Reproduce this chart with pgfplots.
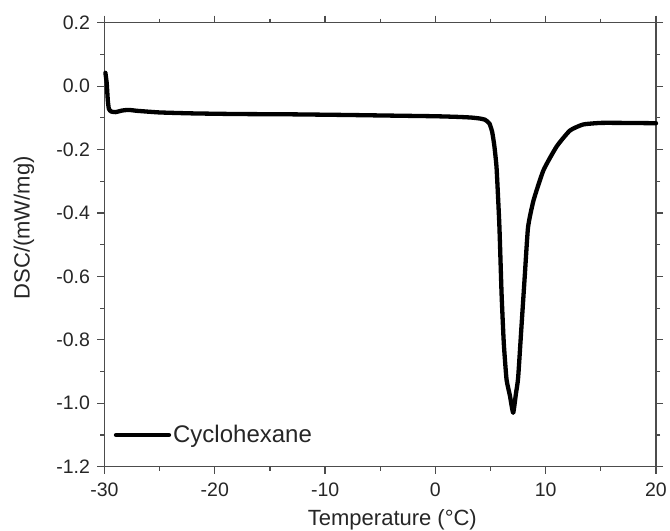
\documentclass[border=0pt]{standalone}
\usepackage{pgfplots}
\pgfplotsset{compat=1.18}
\usepackage{fontspec}
\setmainfont{Liberation Sans}

\begin{document}
\begin{tikzpicture}
\begin{axis}[
    scale only axis,
    width=551.5pt, height=444pt,
    xmin=-30, xmax=20, ymin=-1.2, ymax=0.2,
    xtick={-30,-20,...,20},
    ytick={-1.2,-1.0,...,0.21},
    minor x tick num=1, minor y tick num=1,
    xtick pos=both, ytick pos=both,
    xticklabel pos=lower, yticklabel pos=left,
    tick align=outside,
    major tick length=7pt, minor tick length=4pt,
    axis line style={black!70, line width=1.2pt},
    every tick/.style={black!70, line width=1.2pt},
    /pgf/number format/assume math mode=true,
    ticklabel style={font=\fontsize{19.5}{22}\selectfont, black!85},
    xticklabel style={yshift=-6pt},
    yticklabel style={xshift=-4pt, /pgf/number format/fixed,
        /pgf/number format/fixed zerofill, /pgf/number format/precision=1},
    xlabel={Temperature (°C)},
    ylabel={DSC/(mW/mg)},
    label style={font=\fontsize{22}{26}\selectfont, black!85},
    xlabel style={at={(rel axis cs:0.522,0)}, anchor=center, yshift=-53.5pt},
    ylabel style={at={(rel axis cs:-0.146,0.538)}, anchor=center},
    legend style={draw=none, fill=none, inner sep=0pt, outer sep=0pt,
        at={(rel axis cs:0.017,0.0714)}, anchor=west,
        font=\fontsize{24}{27}\selectfont, text=black!85},
    legend image code/.code={\draw[#1] (0pt,0pt) -- (53pt,0pt);},
    clip=false,
]
\addplot[black, line width=4.3pt, line join=round, line cap=round, smooth, tension=0.3] coordinates {
    (-29.92, 0.042) (-29.8, 0.01) (-29.7, -0.045) (-29.6, -0.072)
    (-29.4, -0.080) (-29.0, -0.082) (-28.4, -0.077) (-27.8, -0.075)
    (-27.0, -0.078) (-25.0, -0.083) (-22.0, -0.086) (-18.0, -0.088)
    (-13.0, -0.089) (-8.0, -0.091) (-4.0, -0.093) (0.0, -0.095)
    (2.0, -0.097) (3.2, -0.099) (4.0, -0.102) (4.5, -0.106)
    (4.9, -0.118) (5.15, -0.145) (5.35, -0.19) (5.55, -0.26)
    (5.8, -0.44) (6.0, -0.655) (6.2, -0.81) (6.45, -0.925)
    (6.75, -0.975) (7.05, -1.03) (7.3, -0.97) (7.5, -0.92)
    (7.8, -0.76) (8.1, -0.6) (8.4, -0.445) (8.9, -0.36)
    (9.8, -0.265) (11.0, -0.19) (12.2, -0.14) (13.4, -0.121)
    (15.0, -0.116) (17.0, -0.116) (20.0, -0.117)
};
\addlegendentry{Cyclohexane}
\coordinate (bl) at (rel axis cs:0,0);
\coordinate (tr) at (rel axis cs:1,1);
\end{axis}
\pgfresetboundingbox
\path ([shift={(-104.5pt,-64.3pt)}]bl) rectangle ([shift={(14pt,22.7pt)}]tr);
\end{tikzpicture}
\end{document}
